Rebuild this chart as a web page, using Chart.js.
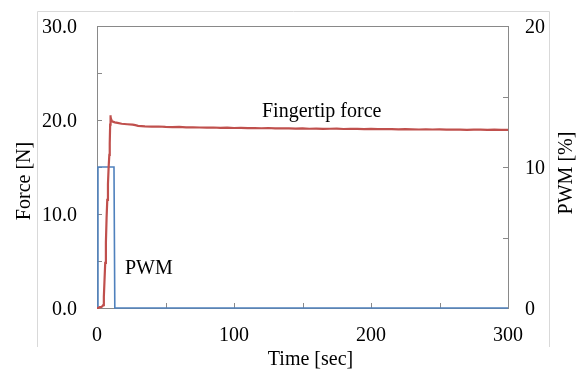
<!DOCTYPE html>
<html>
<head>
<meta charset="utf-8">
<script src="https://cdn.jsdelivr.net/npm/chart.js@4/dist/chart.umd.min.js"></script>
<style>
  html, body { margin: 0; padding: 0; background: #fff; }
</style>
</head>
<body>
<canvas id="forceChart" width="584" height="369"></canvas>
<script>
// fingertip force [N], time in sec
var forceTime = [0, 1, 2, 3, 4, 4.5, 5, 5.5, 6, 6.5, 7, 7.5, 8, 8.5, 9, 9.3, 9.6, 9.8,
  10, 10.5, 11, 12, 13, 15, 18, 22, 26, 28, 30, 35, 40, 45, 50, 55, 60, 65, 70, 75,
  80, 85, 90, 95, 100, 105, 110, 115, 120, 125, 130, 135, 140, 145, 150, 155, 160,
  165, 170, 175, 180, 185, 190, 195, 200, 205, 210, 215, 220, 225, 230, 235, 240,
  245, 250, 255, 260, 265, 270, 275, 280, 285, 290, 295, 300];
var forceValue = [0, 0, 0.1, 0.1, 0.2, 0.3, 1.2, 3.0, 4.8, 7.0, 9.6, 11.5, 13.2, 15.0, 16.3, 17.5, 19.5, 20.5,
  20.3, 20.0, 19.85, 19.8, 19.75, 19.7, 19.6, 19.55, 19.5, 19.45, 19.38, 19.33, 19.3, 19.31, 19.27, 19.25, 19.26, 19.21, 19.22, 19.2,
  19.18, 19.2, 19.16, 19.19, 19.15, 19.17, 19.13, 19.14, 19.12, 19.15, 19.1, 19.11, 19.1, 19.08, 19.1, 19.07, 19.09,
  19.06, 19.07, 19.08, 19.04, 19.06, 19.05, 19.03, 19.05, 19.02, 19.04, 19.03, 19.0, 19.02, 19.01, 18.99, 19.01,
  18.99, 19.0, 18.97, 18.99, 18.98, 18.96, 18.98, 18.97, 18.95, 18.97, 18.96, 18.95];

// PWM [%]
var pwmTime = [0, 0.7, 0.7, 12.4, 13.0, 300];
var pwmValue = [0, 0, 10, 10, 0, 0];

var leftTicks = [0, 10, 20, 30];
var rightTicks = [0, 10, 20];
var timeTicks = [0, 100, 200, 300];

var FONT = "'Liberation Serif', 'Times New Roman', serif";

function toPoints(xs, ys) {
  return xs.map(function (x, i) { return { x: x, y: ys[i] }; });
}

// fixed axis box, and no extra padding pushed onto the chart area by tick labels
function fixWidth(w) {
  return function (s) {
    s.width = w;
    s.paddingTop = 0;
    s.paddingBottom = 0;
  };
}

var framePlugin = {
  id: 'frame',
  beforeDatasetsDraw: function (chart) {
    var ctx = chart.ctx;
    var a = chart.chartArea;
    ctx.save();
    // outer chart border (left, top, right only)
    ctx.strokeStyle = '#d9d9d9';
    ctx.lineWidth = 1;
    ctx.beginPath();
    ctx.moveTo(37.5, 347);
    ctx.lineTo(37.5, 11.5);
    ctx.lineTo(549.5, 11.5);
    ctx.lineTo(549.5, 347);
    ctx.stroke();

    // plot frame
    ctx.strokeStyle = '#898989';
    ctx.strokeRect(Math.round(a.left) + 0.5, Math.round(a.top) + 0.5,
      Math.round(a.right - a.left), Math.round(a.bottom - a.top));

    // inward tick marks
    var len = 5;
    ctx.beginPath();
    chart.scales.x.ticks.forEach(function (t) {
      var px = Math.round(chart.scales.x.getPixelForValue(t.value)) + 0.5;
      ctx.moveTo(px, a.bottom);
      ctx.lineTo(px, a.bottom - len);
    });
    chart.scales.y.ticks.forEach(function (t) {
      var py = Math.round(chart.scales.y.getPixelForValue(t.value)) + 0.5;
      ctx.moveTo(a.left, py);
      ctx.lineTo(a.left + len, py);
    });
    chart.scales.y1.ticks.forEach(function (t) {
      var py = Math.round(chart.scales.y1.getPixelForValue(t.value)) + 0.5;
      ctx.moveTo(a.right, py);
      ctx.lineTo(a.right - len, py);
    });
    ctx.stroke();
    ctx.restore();
  },
  afterDraw: function (chart) {
    var ctx = chart.ctx;
    var a = chart.chartArea;
    var sx = chart.scales.x, sy = chart.scales.y;
    ctx.save();
    ctx.fillStyle = '#000';
    ctx.font = '20px ' + FONT;

    // series labels
    ctx.textAlign = 'center';
    ctx.textBaseline = 'alphabetic';
    ctx.fillText('Fingertip force', sx.getPixelForValue(164), sy.getPixelForValue(20.3));
    ctx.textAlign = 'left';
    ctx.fillText('PWM', sx.getPixelForValue(20.4), sy.getPixelForValue(3.6));

    // axis titles
    ctx.textAlign = 'center';
    ctx.fillText('Time [sec]', (a.left + a.right) / 2 + 8, 365);

    ctx.textBaseline = 'middle';
    ctx.save();
    ctx.translate(25, (a.top + a.bottom) / 2 + 14);
    ctx.rotate(-Math.PI / 2);
    ctx.fillText('Force [N]', 0, 0);
    ctx.restore();

    ctx.save();
    ctx.translate(566.5, (a.top + a.bottom) / 2 + 6);
    ctx.rotate(-Math.PI / 2);
    ctx.fillText('PWM [%]', 0, 0);
    ctx.restore();

    ctx.restore();
  }
};

new Chart(document.getElementById('forceChart'), {
  type: 'line',
  data: {
    datasets: [
      {
        label: 'Fingertip force',
        data: toPoints(forceTime, forceValue),
        yAxisID: 'y',
        borderColor: '#c0504d',
        borderWidth: 2.2,
        pointRadius: 0,
        tension: 0,
        fill: false,
        clip: false
      },
      {
        label: 'PWM',
        data: toPoints(pwmTime, pwmValue),
        yAxisID: 'y1',
        borderColor: '#4f81bd',
        borderWidth: 1.6,
        pointRadius: 0,
        tension: 0,
        fill: false,
        clip: false
      }
    ]
  },
  options: {
    responsive: false,
    animation: false,
    layout: { padding: { top: 26, left: 0, right: 0, bottom: 0 } },
    plugins: {
      legend: { display: false },
      tooltip: { enabled: false }
    },
    scales: {
      x: {
        type: 'linear',
        min: 0,
        max: 300,
        grid: { display: false, drawTicks: false },
        border: { display: false },
        ticks: {
          stepSize: 50,
          padding: 16,
          maxRotation: 0,
          color: '#000',
          font: { family: FONT, size: 20 },
          callback: function (v) { return timeTicks.indexOf(v) >= 0 ? String(v) : ''; }
        },
        afterFit: function (s) { s.height = 61; }
      },
      y: {
        position: 'left',
        min: 0,
        max: 30,
        grid: { display: false, drawTicks: false },
        border: { display: false },
        ticks: {
          stepSize: 5,
          padding: 20,
          labelOffset: 2,
          color: '#000',
          font: { family: FONT, size: 20 },
          callback: function (v) { return leftTicks.indexOf(v) >= 0 ? v.toFixed(1) : ''; }
        },
        afterFit: fixWidth(97)
      },
      y1: {
        position: 'right',
        min: 0,
        max: 20,
        grid: { display: false, drawTicks: false },
        border: { display: false },
        ticks: {
          stepSize: 5,
          padding: 17,
          labelOffset: 2,
          color: '#000',
          font: { family: FONT, size: 20 },
          callback: function (v) { return rightTicks.indexOf(v) >= 0 ? String(v) : ''; }
        },
        afterFit: fixWidth(76)
      }
    }
  },
  plugins: [framePlugin]
});
</script>
</body>
</html>
